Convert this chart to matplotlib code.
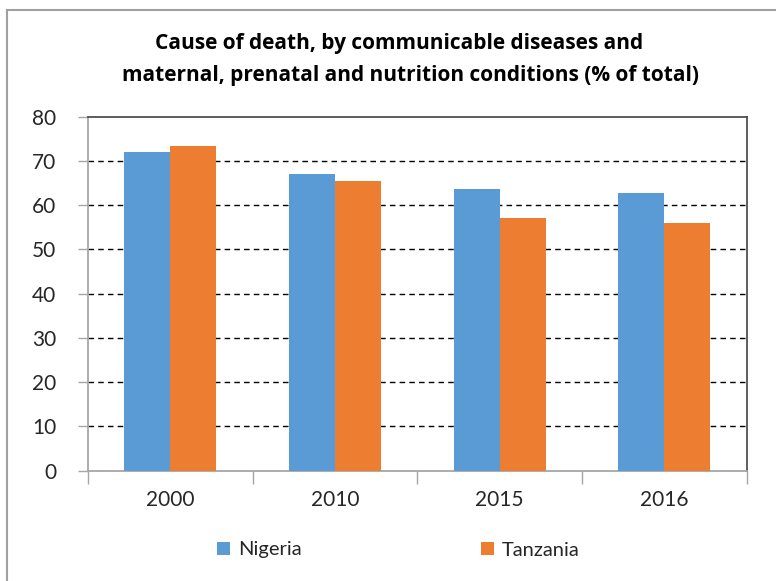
import matplotlib.pyplot as plt
import numpy as np
from matplotlib.patches import Rectangle

# % of total deaths, communicable + maternal/prenatal/nutrition
years = ['2000', '2010', '2015', '2016']
nigeria = [72.1, 67.0, 63.6, 62.7]
tanzania = [73.4, 65.4, 57.2, 56.0]

plt.rcParams['font.family'] = ['Lato', 'DejaVu Sans']

blue = '#5B9BD5'
orange = '#ED7D31'
txt = '#262626'

fig = plt.figure(figsize=(7.76, 5.81), dpi=100)
ax = fig.add_axes([88 / 776, 1 - 470.7 / 581, (746.7 - 88) / 776, (470.7 - 116.7) / 581])

x = np.arange(len(years))
w = 0.28
ax.bar(x - w / 2, nigeria, w, color=blue, label='Nigeria', zorder=3)
ax.bar(x + w / 2, tanzania, w, color=orange, label='Tanzania', zorder=3)

ax.set_xlim(-0.5, len(years) - 0.5)
ax.set_ylim(0, 80)
ax.set_yticks(range(0, 81, 10))
ax.set_xticks(x)
ax.set_xticklabels(years)
ax.set_xticks(np.arange(-0.5, len(years)), minor=True)

for v in range(10, 80, 10):
    ax.axhline(v, color='black', lw=1.0, ls=(0, (4, 3)), zorder=1)

ax.spines['left'].set_color('#a6a6a6')
ax.spines['bottom'].set_color('#a6a6a6')
ax.spines['top'].set_color('#505050')
ax.spines['right'].set_color('#505050')
for s in ax.spines.values():
    s.set_linewidth(1.3)

ax.tick_params(axis='y', length=7, width=1, color='#a6a6a6', labelsize=15,
               labelcolor=txt, pad=16)
ax.tick_params(axis='x', which='major', length=0, labelsize=15,
               labelcolor=txt, pad=14)
ax.tick_params(axis='x', which='minor', length=9, width=1, color='#a6a6a6')

title_font = dict(ha='center', va='center', fontsize=15, fontweight='bold',
                  color='black', family=['Open Sans', 'DejaVu Sans'])
fig.text(399 / 776, 1 - 44 / 581, 'Cause of death, by communicable diseases and',
         **title_font)
fig.text(410 / 776, 1 - 76 / 581, 'maternal, prenatal and nutrition conditions (% of total)',
         **title_font)

fig.legend(loc='center', bbox_to_anchor=(398 / 776, 1 - 550 / 581), ncol=2,
           frameon=False, fontsize=14.5, handlelength=0.65, handleheight=0.65,
           handletextpad=0.4, columnspacing=8.9, labelcolor=txt)

# outer chart frame
fig.patches.append(Rectangle((7 / 776, -0.05), 1.1, 1 - 9.5 / 581 + 0.05,
                             transform=fig.transFigure, fill=False,
                             edgecolor='#a0a0a0', lw=1.5))

fig.savefig('out.png', dpi=100)
